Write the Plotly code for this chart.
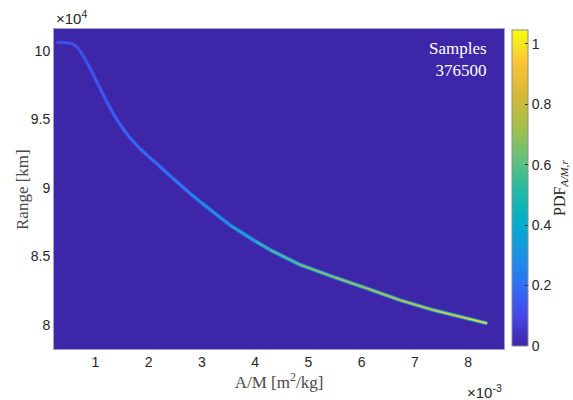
import plotly.graph_objects as go
from plotly.colors import sample_colorscale

# ---- data (ridge of the PDF) ----
am_e3 = [0.27, 0.45, 0.53, 0.60, 0.647, 0.70, 0.76, 0.865, 0.975, 1.085, 1.21, 1.335,
         1.46, 1.586, 1.71, 1.836, 2.00, 2.15, 2.46, 2.78, 3.00, 3.53, 4.00, 4.29,
         4.84, 5.47, 6.10, 6.72, 7.35, 7.98, 8.36]
range_e4 = [10.060, 10.058, 10.054, 10.045, 10.030, 10.005, 9.970, 9.900, 9.815, 9.727,
            9.633, 9.542, 9.465, 9.396, 9.338, 9.287, 9.228, 9.178, 9.068, 8.959,
            8.889, 8.728, 8.612, 8.546, 8.440, 8.351, 8.267, 8.181, 8.109, 8.048, 8.012]
pdf_peak = [0.15, 0.15, 0.15, 0.15, 0.15, 0.15, 0.15, 0.16, 0.16, 0.17, 0.17, 0.18,
            0.19, 0.20, 0.20, 0.21, 0.22, 0.23, 0.25, 0.28, 0.32, 0.40, 0.50, 0.55,
            0.65, 0.72, 0.78, 0.83, 0.88, 0.93, 0.98]

samples = 376500
cbar_ticks = [0, 0.2, 0.4, 0.6, 0.8, 1]
x_ticks = [1, 2, 3, 4, 5, 6, 7, 8]
y_ticks = [8, 8.5, 9, 9.5, 10]

am = [v * 1e-3 for v in am_e3]
rng = [v * 1e4 for v in range_e4]

parula = [
    [0.00, "rgb(62,38,168)"],
    [0.10, "rgb(70,72,235)"],
    [0.20, "rgb(45,115,245)"],
    [0.30, "rgb(22,150,225)"],
    [0.40, "rgb(2,175,200)"],
    [0.50, "rgb(40,186,160)"],
    [0.60, "rgb(105,194,120)"],
    [0.70, "rgb(168,190,70)"],
    [0.80, "rgb(215,185,55)"],
    [0.90, "rgb(252,196,55)"],
    [0.95, "rgb(245,228,35)"],
    [1.00, "rgb(249,251,14)"],
]
cmax = 1.046

def col(v):
    return sample_colorscale(parula, [min(max(v / cmax, 0), 1)])[0]

fig = go.Figure()

# outer halo and inner core of the ridge, drawn segment by segment
for w, f in [(4.0, 0.42), (1.8, 1.0)]:
    for i in range(len(am) - 1):
        v = 0.5 * (pdf_peak[i] + pdf_peak[i + 1]) * f
        fig.add_trace(go.Scatter(
            x=[am[i], am[i + 1]], y=[rng[i], rng[i + 1]],
            mode="lines", line=dict(color=col(v), width=w),
            hoverinfo="skip", showlegend=False))

# colorbar carrier
fig.add_trace(go.Scatter(
    x=[am[0]], y=[rng[0]], mode="markers",
    marker=dict(size=0.1, color=[0], coloraxis="coloraxis", opacity=0),
    hoverinfo="skip", showlegend=False))

serif = "Liberation Serif, Times New Roman, serif"
sans = "Liberation Sans, Arial, sans-serif"

L, R, T, B = 54, 69, 29, 51
pw, ph = 573 - L - R, 400 - T - B

fig.update_layout(
    width=573, height=400,
    margin=dict(l=L, r=R, t=T, b=B, autoexpand=False),
    paper_bgcolor="white",
    plot_bgcolor="rgb(62,38,168)",
    coloraxis=dict(
        colorscale=parula, cmin=0, cmax=cmax,
        colorbar=dict(
            x=(512 - L) / pw, xanchor="left", xpad=0, ypad=0,
            y=(349 - 188) / ph, yanchor="middle",
            thickness=16, len=316, lenmode="pixels",
            outlinecolor="#8c8c8c", outlinewidth=1,
            ticks="inside", ticklen=3, tickcolor="#262626",
            tickvals=cbar_ticks,
            ticktext=["%g" % t for t in cbar_ticks],
            tickfont=dict(family=sans, size=14, color="#262626"),
        ),
    ),
    xaxis=dict(
        range=[0.224e-3, 8.675e-3],
        tickvals=[t * 1e-3 for t in x_ticks], ticktext=[str(t) for t in x_ticks],
        tickfont=dict(family=sans, size=14, color="#262626"),
        showgrid=False, zeroline=False, ticks="",
        showline=True, mirror=True, linecolor="#a49dd8", linewidth=1,
        title=dict(text="A/M [m<sup>2</sup>/kg]", standoff=4,
                   font=dict(family=serif, size=17, color="#4a4a4a")),
    ),
    yaxis=dict(
        range=[7.825e4, 10.158e4],
        tickvals=[t * 1e4 for t in y_ticks],
        ticktext=[("%g" % t) for t in y_ticks],
        tickfont=dict(family=sans, size=14, color="#262626"),
        showgrid=False, zeroline=False, ticks="",
        showline=True, mirror=True, linecolor="#a49dd8", linewidth=1,
    ),
    annotations=[
        dict(text="Samples<br>%d" % samples, xref="paper", yref="paper",
             x=(489 - L) / pw, y=0.975, xanchor="right", yanchor="top", align="right",
             showarrow=False, font=dict(family=serif, size=17, color="white")),
        dict(text="×10<sup>4</sup>", xref="paper", yref="paper",
             x=0.0, y=(349 - 18) / ph, xanchor="left", yanchor="middle", showarrow=False,
             font=dict(family=sans, size=15, color="#262626")),
        dict(text="×10<sup>-3</sup>", xref="paper", yref="paper",
             x=1.0, y=(349 - 391) / ph, xanchor="right", yanchor="middle", showarrow=False,
             font=dict(family=sans, size=15, color="#262626")),
        dict(text="Range [km]", xref="paper", yref="paper",
             x=(22 - L) / pw, y=(349 - 190) / ph, xanchor="center", yanchor="middle",
             textangle=-90, showarrow=False,
             font=dict(family=serif, size=17, color="#4a4a4a")),
        dict(text="PDF<sub><i>A/M,r</i></sub>", xref="paper", yref="paper",
             x=(560 - L) / pw, y=(349 - 188) / ph, xanchor="center", yanchor="middle",
             textangle=-90, showarrow=False,
             font=dict(family=serif, size=16, color="#262626")),
    ],
)

fig.write_html("out.html")
